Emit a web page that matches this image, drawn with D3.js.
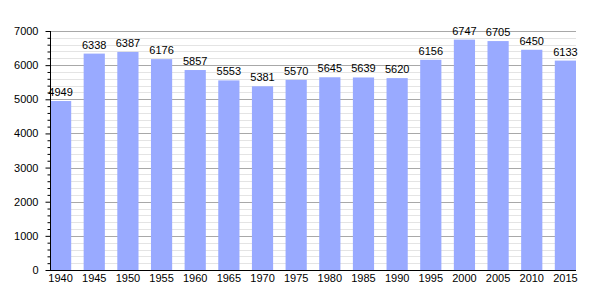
<!DOCTYPE html>
<html><head><meta charset="utf-8">
<script src="https://cdn.jsdelivr.net/npm/d3@7"></script>
<style>body{margin:0;background:#fff}svg{display:block}text{font-family:"Liberation Sans",Arial,sans-serif}</style>
</head><body>
<svg id="c" width="605" height="300"></svg>
<script>
const years = ["1940","1945","1950","1955","1960","1965","1970","1975","1980","1985","1990","1995","2000","2005","2010","2015"];
const population = [4949,6338,6387,6176,5857,5553,5381,5570,5645,5639,5620,6156,6747,6705,6450,6133];
const yTicks = [0,1000,2000,3000,4000,5000,6000,7000];

(function(){
const svg = d3.select("#c");
const pl = 50, pr = 576, pt = 31, pb = 270;
const y = d3.scaleLinear().domain([0,7000]).range([pb, pt]);
const x = d3.scaleBand().domain(years).range([pl, pr]).paddingInner(0.37).paddingOuter(0);

const minor = d3.range(200, 7001, 200).filter(v => v % 1000 !== 0);
svg.append("g").selectAll("line").data(minor).join("line")
  .attr("x1", pl).attr("x2", pr).attr("y1", d => Math.round(y(d))+0.5).attr("y2", d => Math.round(y(d))+0.5)
  .attr("stroke", "#e4e4e4").attr("stroke-width", 1);
svg.append("g").selectAll("line").data(yTicks.slice(1)).join("line")
  .attr("x1", pl).attr("x2", pr).attr("y1", d => Math.round(y(d))+0.5).attr("y2", d => Math.round(y(d))+0.5)
  .attr("stroke", "#a8a8a8").attr("stroke-width", 1);

svg.append("g").selectAll("rect").data(population).join("rect")
  .attr("x", (d,i) => x(years[i])).attr("width", x.bandwidth())
  .attr("y", d => y(d)).attr("height", d => pb - y(d))
  .attr("fill", "#99aaff");

svg.append("g").selectAll("text").data(population).join("text")
  .attr("x", (d,i) => x(years[i]) + x.bandwidth()/2).attr("y", d => y(d) - 5)
  .attr("text-anchor", "middle").attr("font-size", 11).attr("fill", "#000")
  .text(d => d);

const yAxis = d3.axisLeft(y).tickValues(yTicks).tickSize(5).tickPadding(7).tickFormat(d3.format("d"));
const gy = svg.append("g").attr("transform", `translate(${pl+0.5},0)`).call(yAxis);
gy.select(".domain").attr("stroke", "#000").attr("d", `M0,${pt}V${pb}`);
gy.selectAll("text").attr("font-size", 11).attr("fill", "#000").attr("font-family", '"Liberation Sans",Arial,sans-serif');
gy.selectAll(".tick line").attr("stroke", "#000");
const gym = svg.append("g").attr("transform", `translate(${pl+0.5},0)`)
  .call(d3.axisLeft(y).tickValues(minor).tickSize(3).tickFormat(""));
gym.select(".domain").remove();
gym.selectAll(".tick line").attr("stroke", "#000");

const xAxis = d3.axisBottom(x).tickSize(0).tickPadding(4);
const gx = svg.append("g").attr("transform", `translate(0,${pb+0.5})`).call(xAxis);
gx.select(".domain").attr("stroke", "#000").attr("d", `M${pl},0H${pr}`);
gx.selectAll("text").attr("font-size", 11).attr("fill", "#000").attr("font-family", '"Liberation Sans",Arial,sans-serif');
})();
</script>
</body></html>
